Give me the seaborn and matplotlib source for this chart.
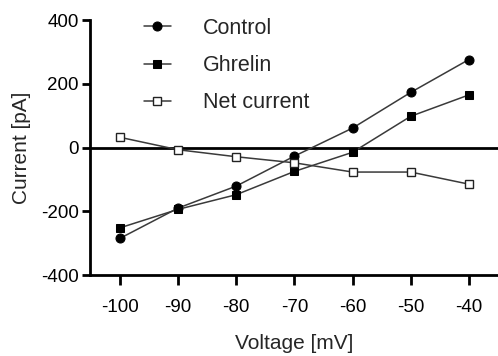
import numpy as np
import pandas as pd
import seaborn as sns
import matplotlib.pyplot as plt

# I-V data
voltage = [-100, -90, -80, -70, -60, -50, -40]
control = [-285, -190, -121, -27, 61, 173, 276]
ghrelin = [-252, -194, -148, -75, -15, 98, 165]
net_current = [32, -7, -29, -48, -77, -77, -115]

sns.set_style("ticks")
plt.rcParams['font.family'] = ['Liberation Sans', 'DejaVu Sans']
plt.rcParams['axes.unicode_minus'] = False

fig = plt.figure(figsize=(4.98, 3.56), dpi=100)
ax = fig.add_axes([0.1807, 0.2275, 0.8193, 0.7163])

df = pd.DataFrame({'Voltage': voltage, 'Control': control,
                   'Ghrelin': ghrelin, 'Net current': net_current})

sns.lineplot(data=df, x='Voltage', y='Control', ax=ax, color='#3a3a3a', lw=1.1,
             marker='o', markersize=6.5, markerfacecolor='black', markeredgecolor='black',
             label='Control')
sns.lineplot(data=df, x='Voltage', y='Ghrelin', ax=ax, color='#3a3a3a', lw=1.1,
             marker='s', markersize=6, markerfacecolor='black', markeredgecolor='black',
             label='Ghrelin')
sns.lineplot(data=df, x='Voltage', y='Net current', ax=ax, color='#3a3a3a', lw=1.1,
             marker='s', markersize=6, markerfacecolor='white', markeredgecolor='#222222',
             markeredgewidth=1.0, label='Net current')

ax.axhline(0, color='black', lw=2, zorder=1)

ax.set_xlim(-105.15, -35.0)
ax.set_ylim(-400, 400)
ax.set_xticks(voltage)
ax.set_yticks([-400, -200, 0, 200, 400])
ax.set_xlabel('Voltage [mV]', fontsize=15, labelpad=13)
ax.set_ylabel('Current [pA]', fontsize=15, labelpad=7)
ax.tick_params(axis='both', labelsize=13.5, colors='black', width=2)
ax.tick_params(axis='x', length=7, pad=10)
ax.tick_params(axis='y', length=6, pad=2)
sns.despine(ax=ax)
ax.spines['left'].set_linewidth(2)
ax.spines['bottom'].set_linewidth(2)
ax.spines['left'].set_color('black')
ax.spines['bottom'].set_color('black')

ax.legend(loc='upper left', bbox_to_anchor=(0.085, 1.084), frameon=False, fontsize=15.5,
          handlelength=1.25, handletextpad=1.5, labelspacing=0.75)

fig.savefig('out.png', dpi=100)
